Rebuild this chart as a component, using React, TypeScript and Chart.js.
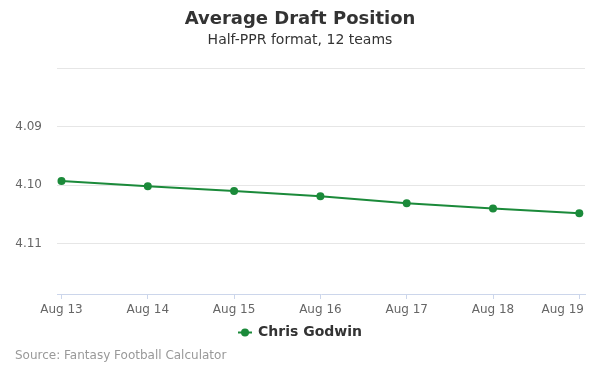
import React, { useEffect, useRef } from "react";
import { Chart, registerables } from "chart.js";

Chart.register(...registerables);

const categories = ["Aug 13", "Aug 14", "Aug 15", "Aug 16", "Aug 17", "Aug 18", "Aug 19"];
const adpValues = [4.0993, 4.1002, 4.101, 4.1019, 4.1031, 4.104, 4.1048];
const yTicks = [4.08, 4.09, 4.1, 4.11];
const yTickLabels = ["", "4.09", "4.10", "4.11"];
const seriesName = "Chris Godwin";
const titleText = "Average Draft Position";
const subtitleText = "Half-PPR format, 12 teams";
const sourceText = "Source: Fantasy Football Calculator";

const FONT = "'DejaVu Sans', sans-serif";
const GREEN = "#1b8a3a";

const decorPlugin = {
  id: "decor",
  afterDraw(chart: any) {
    const ctx = chart.ctx;
    ctx.save();
    ctx.textBaseline = "middle";
    ctx.textAlign = "center";
    ctx.fillStyle = "#333333";
    ctx.font = `bold 18px ${FONT}`;
    ctx.fillText(titleText, 300, 19);
    ctx.font = `14px ${FONT}`;
    ctx.fillText(subtitleText, 300, 40.5);

    // x-axis labels (last one kept inside the chart, as in the reference)
    const xs = chart.scales.x;
    ctx.font = `12px ${FONT}`;
    ctx.fillStyle = "#666666";
    const limit = 584;
    categories.forEach((c, i) => {
      const px = xs.getPixelForValue(i);
      const w = ctx.measureText(c).width;
      let cx = px;
      if (cx + w / 2 > limit) cx = limit - w / 2;
      ctx.textAlign = "center";
      ctx.fillText(c, cx, 310);
    });

    // legend
    ctx.font = `bold 14px ${FONT}`;
    const tw = ctx.measureText(seriesName).width;
    const total = 14 + 6 + tw;
    const x0 = 300 - total / 2;
    const ly = 332.5;
    ctx.strokeStyle = GREEN;
    ctx.lineWidth = 2;
    ctx.beginPath();
    ctx.moveTo(x0, ly);
    ctx.lineTo(x0 + 14, ly);
    ctx.stroke();
    ctx.fillStyle = GREEN;
    ctx.beginPath();
    ctx.arc(x0 + 7, ly, 4, 0, Math.PI * 2);
    ctx.fill();
    ctx.fillStyle = "#333333";
    ctx.textAlign = "left";
    ctx.fillText(seriesName, x0 + 20, ly);

    // source
    ctx.font = `12px ${FONT}`;
    ctx.fillStyle = "#999999";
    ctx.fillText(sourceText, 15, 356);
    ctx.restore();
  },
};

export default function App() {
  const ref = useRef<HTMLCanvasElement>(null);
  useEffect(() => {
    document.body.style.margin = "0";
    const chart = new Chart(ref.current!, {
      type: "line",
      data: {
        datasets: [
          {
            label: seriesName,
            data: adpValues.map((v, i) => ({ x: i, y: v })),
            borderColor: GREEN,
            backgroundColor: GREEN,
            borderWidth: 2,
            pointRadius: 4,
            pointBackgroundColor: GREEN,
            pointBorderWidth: 0,
            tension: 0,
          },
        ],
      },
      options: {
        animation: false,
        responsive: false,
        maintainAspectRatio: false,
        layout: { padding: { top: 68, left: 12, right: 15, bottom: 51 } },
        plugins: {
          legend: { display: false },
          title: { display: false },
          tooltip: { enabled: false },
        },
        scales: {
          x: {
            type: "linear",
            min: -0.052,
            max: 6.066,
            afterBuildTicks: (axis: any) => {
              axis.ticks = categories.map((_, i) => ({ value: i }));
            },
            afterFit: (axis: any) => {
              axis.height = 30;
              axis.paddingLeft = 0;
              axis.paddingRight = 0;
            },
            grid: {
              drawOnChartArea: false,
              drawTicks: true,
              tickLength: 5,
              color: "#ccd6eb",
            },
            border: { display: true, color: "#ccd6eb", width: 1 },
            ticks: {
              display: false,
              autoSkip: false,
              maxRotation: 0,
              callback: (v: any) => categories[Math.round(Number(v))] ?? "",
            },
          },
          y: {
            type: "linear",
            reverse: true,
            min: 4.08,
            max: 4.1186,
            afterBuildTicks: (axis: any) => {
              axis.ticks = yTicks.map((v) => ({ value: v }));
            },
            afterFit: (axis: any) => {
              axis.width = 45;
              axis.paddingTop = 0;
              axis.paddingBottom = 0;
            },
            grid: { color: "#e6e6e6", drawTicks: false, lineWidth: 1 },
            border: { display: false },
            ticks: {
              padding: 15,
              color: "#666666",
              font: { family: FONT, size: 12 },
              callback: (v: any) => {
                const idx = yTicks.findIndex((t) => Math.abs(t - Number(v)) < 1e-6);
                return idx >= 0 ? yTickLabels[idx] : "";
              },
            },
          },
        },
      },
      plugins: [decorPlugin],
    });
    return () => chart.destroy();
  }, []);
  return (
    <div style={{ position: "relative", width: 600, height: 375 }}>
      <canvas ref={ref} width={600} height={375} style={{ display: "block" }} />
    </div>
  );
}
